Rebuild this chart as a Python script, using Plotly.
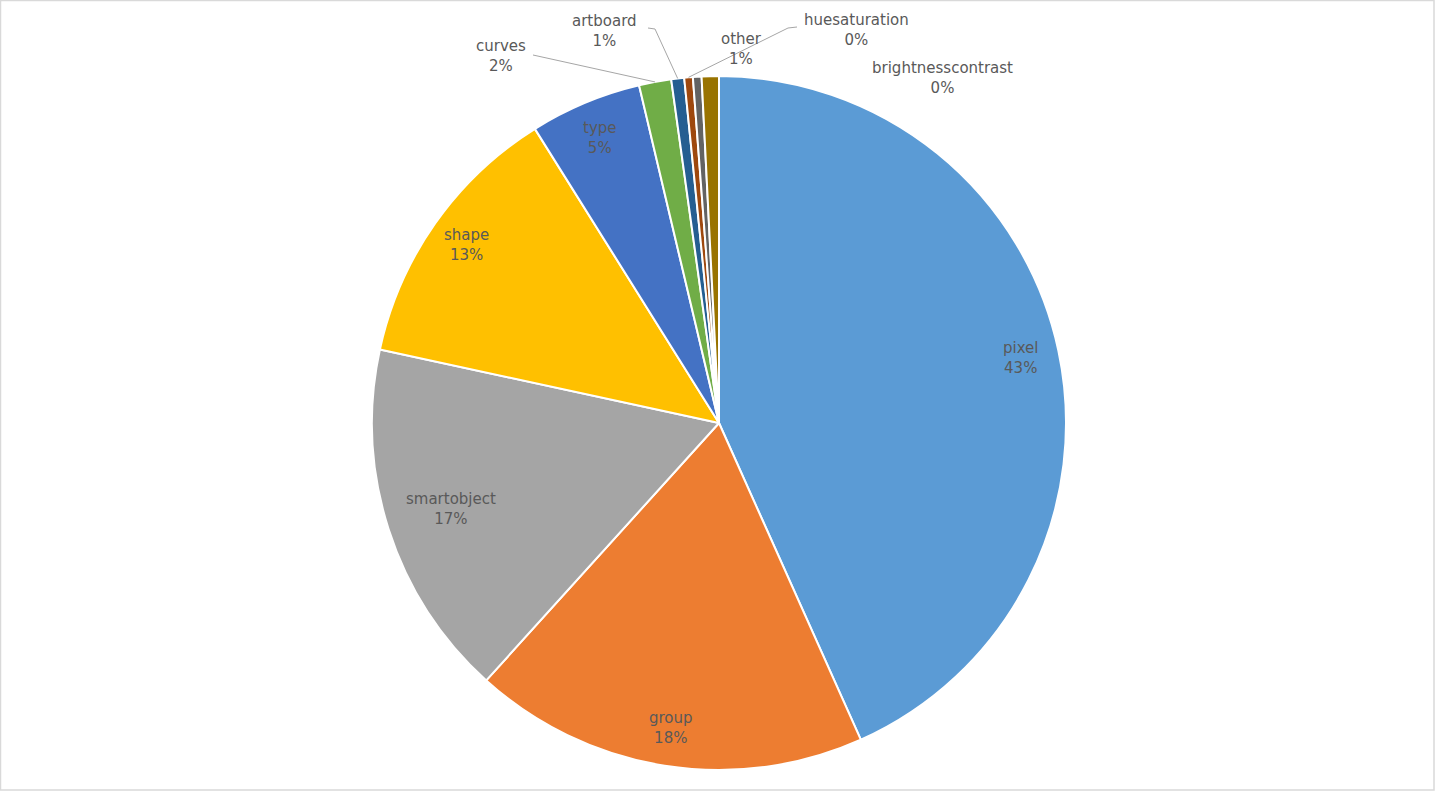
import numpy as np
import plotly.graph_objects as go

LABELS = ["pixel", "group", "smartobject", "shape", "type", "curves",
          "artboard", "huesaturation", "brightnesscontrast", "other"]
VALUES = [43.3, 18.4, 16.7, 12.7, 5.2, 1.5, 0.6, 0.4, 0.4, 0.8]
COLORS = ["#5B9BD5", "#ED7D31", "#A5A5A5", "#FFC000", "#4472C4", "#70AD47",
          "#255E91", "#9E480E", "#636363", "#997300"]

W, H = 1436, 794
CX, CY, R = 719, 423, 347
FONT = dict(family="DejaVu Sans, sans-serif", size=15, color="#595959")

# labels sitting inside the slice: radius factor
INSIDE = {"pixel": 0.89, "group": 0.89, "smartobject": 0.81, "shape": 0.89, "type": 0.89}
# labels for thin slices: text centre and leader line start (pixels)
OUTSIDE = {
    "curves": ((501, 56), [(533, 55)]),
    "artboard": ((604, 31), [(648, 28), (655, 29)]),
    "huesaturation": ((856, 30), [(797, 27), (788, 28)]),
    "other": ((741, 49), None),
    "brightnesscontrast": ((942, 78), None),
}


def px(x, y):
    return x / W, 1 - y / H


vals = np.array(VALUES)
frac = vals / vals.sum()
mid = (np.cumsum(frac) - frac / 2) * 2 * np.pi  # clockwise from 12 o'clock

fig = go.Figure(go.Pie(
    labels=LABELS,
    values=VALUES,
    marker=dict(colors=COLORS, line=dict(color="white", width=2)),
    sort=False,
    direction="clockwise",
    rotation=0,
    textinfo="none",
    hoverinfo="label+percent",
    domain=dict(x=[(CX - R) / W, (CX + R) / W], y=[(H - CY - R) / H, (H - CY + R) / H]),
    showlegend=False,
))

annotations = []
shapes = []
for i, lab in enumerate(LABELS):
    text = f"{lab}<br>{frac[i] * 100:.0f}%"
    if lab in INSIDE:
        k = INSIDE[lab]
        x, y = CX + k * R * np.sin(mid[i]), CY - k * R * np.cos(mid[i])
    else:
        (x, y), line = OUTSIDE[lab]
        if line:
            ex, ey = CX + R * np.sin(mid[i]), CY - R * np.cos(mid[i])
            pts = line + [(ex, ey)]
            for (x0, y0), (x1, y1) in zip(pts[:-1], pts[1:]):
                a0, b0 = px(x0, y0)
                a1, b1 = px(x1, y1)
                shapes.append(dict(type="line", xref="paper", yref="paper",
                                   x0=a0, y0=b0, x1=a1, y1=b1,
                                   line=dict(color="#A6A6A6", width=1)))
    ax, ay = px(x, y)
    annotations.append(dict(x=ax, y=ay, xref="paper", yref="paper", text=text,
                            xanchor="center", yanchor="middle",
                            showarrow=False, font=FONT, align="center"))

# chart border
shapes.append(dict(type="rect", xref="paper", yref="paper",
                   x0=0.5 / W, y0=1 - 790 / H, x1=1434 / W, y1=1 - 0.5 / H,
                   line=dict(color="#D9D9D9", width=1.5)))

fig.update_layout(
    width=W, height=H,
    margin=dict(l=0, r=0, t=0, b=0),
    paper_bgcolor="white",
    font=FONT,
    annotations=annotations,
    shapes=shapes,
)

fig.write_html("out.html", config={"displayModeBar": False},
               post_script="document.body.style.margin='0';")
